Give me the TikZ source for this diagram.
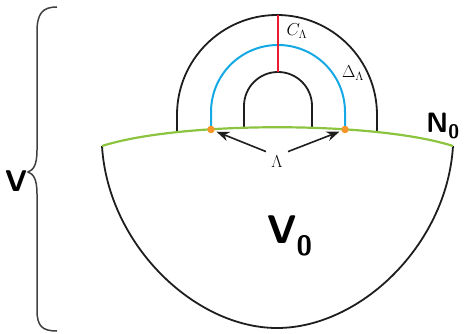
\documentclass[tikz,border=0pt]{standalone}
\usepackage{amsmath,amssymb}
\usepackage{xcolor}
\usepackage{tikz}
\usetikzlibrary{arrows.meta,positioning,calc}
\definecolor{hbGreen}{RGB}{140,196,64}
\definecolor{hbBlue}{RGB}{20,168,228}
\definecolor{hbRed}{RGB}{236,28,48}
\definecolor{hbOrange}{RGB}{246,150,40}
\definecolor{hbLine}{RGB}{30,30,30}

\begin{document}
\begin{tikzpicture}[
  x=1pt, y=-1pt,
  bd/.style={draw=hbLine, line width=1.8pt},
  gr/.style={draw=hbGreen, line width=2.2pt},
  dl/.style={draw=hbBlue, line width=2pt},
  pt/.style={circle, fill=hbOrange, inner sep=0pt, minimum size=7.5pt},
  ar/.style={-{Stealth[length=4.5mm,width=3.4mm]}, draw=hbLine, line width=1.6pt, shorten >=2pt},
  hw/.style={font=\sffamily, text=black}
]
\useasboundingbox (0,0) rectangle (466,334);
% arches above the green boundary
\begin{scope}
  \clip (102,146) .. controls (180,121) and (375,121) .. (453,146) -- (453,0) -- (102,0) -- cycle;
  \draw[bd] (177,140) -- (177,115) arc[start angle=180, end angle=360, radius=100] -- (377,140);
  \draw[bd] (244,140) -- (244,106) arc[start angle=180, end angle=360, radius=34] -- (312,140);
  \draw[dl] (211,140) -- (211,112) arc[start angle=180, end angle=360, radius=67] -- (345,140);
\end{scope}
\draw[draw=hbRed, line width=2pt] (278,15) -- (278,72);
% bowl and boundary
\draw[bd] (102,146) .. controls (108,245) and (195,328) .. (277,328)
  .. controls (360,328) and (447,245) .. (453,146);
\draw[gr] (102,146) .. controls (180,121) and (375,121) .. (453,146);
\node[pt] (p1) at (211,129.5) {};
\node[pt] (p2) at (345,129.5) {};
% labels
\node[font=\fontsize{18}{20}\selectfont] (lam) at (277,162) {$\Lambda$};
\draw[ar] (lam.north west) ++(-2,-1) coordinate (a1) (a1) -- (p1);
\draw[ar] (lam.north east) ++(2,-1) coordinate (a2) (a2) -- (p2);
\node[font=\fontsize{18}{20}\selectfont] (cl) at (297,31) {$C_\Lambda$};
\node[font=\fontsize{18}{20}\selectfont] (dl) at (353,73) {$\Delta_\Lambda$};
\node[hw, font=\sffamily\bfseries\fontsize{40}{42}\selectfont] (vo) at (290,236) {V\textsubscript{0}};
\node[hw, font=\sffamily\bfseries\fontsize{28}{30}\selectfont] (no) at (443,126) {N\textsubscript{0}};
\node[hw, font=\sffamily\bfseries\fontsize{30}{32}\selectfont] (v) at (16,181) {V};
% brace
\draw[draw=hbLine!85, line width=1.5pt] (57,7) .. controls (42,7) and (37,14) .. (37,32)
  -- (37,150) .. controls (37,166) and (33,170) .. (28,172)
  .. controls (33,174) and (37,178) .. (37,194)
  -- (37,310) .. controls (37,326) and (42,331) .. (57,331);
\end{tikzpicture}
\end{document}
